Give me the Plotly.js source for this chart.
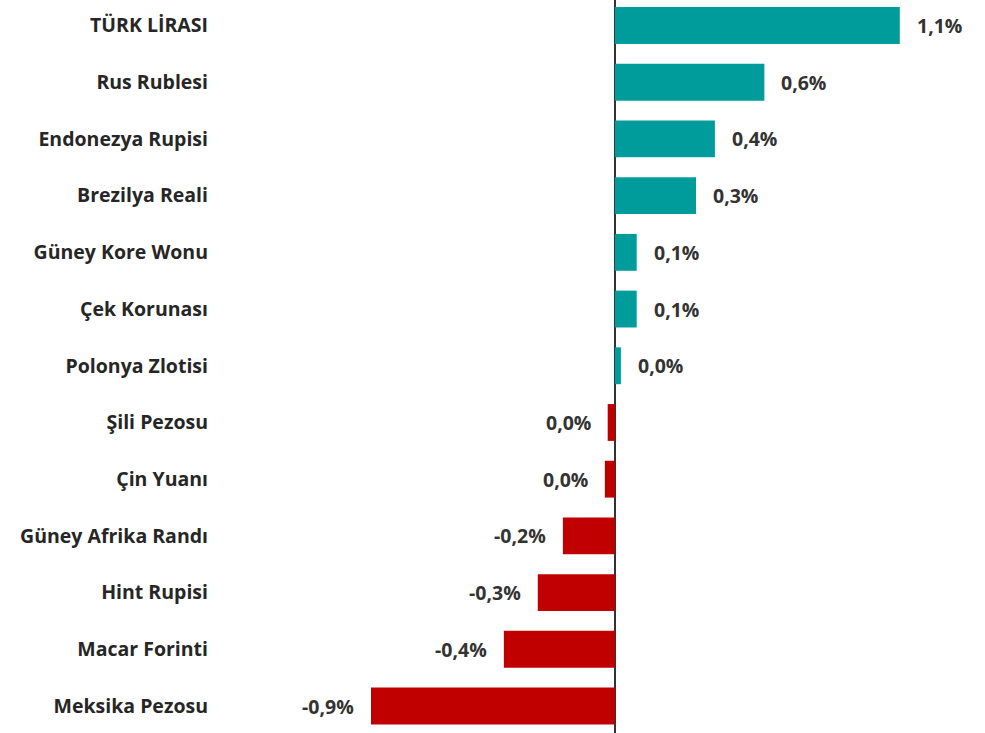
<!DOCTYPE html>
<html><head><meta charset="utf-8">
<script src="https://cdn.plot.ly/plotly-3.0.1.min.js"></script>
<style>body{margin:0;padding:0;background:#fff}#chart{width:985px;height:733px}</style>
</head><body><div id="chart"></div>
<script>
const categories = ["TÜRK LİRASI","Rus Rublesi","Endonezya Rupisi","Brezilya Reali","Güney Kore Wonu","Çek Korunası","Polonya Zlotisi","Şili Pezosu","Çin Yuanı","Güney Afrika Randı","Hint Rupisi","Macar Forinti","Meksika Pezosu"];
const values = [1.10, 0.577, 0.386, 0.313, 0.084, 0.084, 0.023, -0.028, -0.039, -0.201, -0.298, -0.429, -0.942];
const posColor = "#009C9C";
const negColor = "#C00000";

const labels = values.map(v => (Math.round(v*10)/10).toFixed(1).replace(".", ",") + "%");
const fontFam = "'Open Sans', 'Noto Sans', sans-serif";

const trace = {
  type: "bar", orientation: "h",
  x: values, y: categories,
  marker: {color: values.map(v => v >= 0 ? posColor : negColor)},
  hoverinfo: "none"
};

const annotations = values.map((v, i) => ({
  x: v, y: categories[i], xref: "x", yref: "y",
  text: "<b>" + labels[i] + "</b>",
  showarrow: false,
  xanchor: v >= 0 ? "left" : "right",
  xshift: v >= 0 ? 15 : -15,
  font: {family: fontFam, size: 19.5, color: "#333333"}
}));

const layout = {
  width: 985, height: 733,
  margin: {l: 212, r: 0, t: 0, b: 0},
  paper_bgcolor: "#fff", plot_bgcolor: "#fff",
  bargap: 0.35,
  showlegend: false,
  xaxis: {range: [-1.556, 1.429], showgrid: false, zeroline: true, zerolinecolor: "#333333", zerolinewidth: 1.5, showticklabels: false, fixedrange: true},
  yaxis: {range: [12.476, -0.45], showgrid: false, zeroline: false, ticks: "", ticklabelstandoff: 3,
          tickfont: {family: fontFam, size: 19.5, color: "#262626", weight: "bold"}, fixedrange: true},
  annotations: annotations
};

Plotly.newPlot("chart", [trace], layout, {displayModeBar: false, staticPlot: true});
</script></body></html>
